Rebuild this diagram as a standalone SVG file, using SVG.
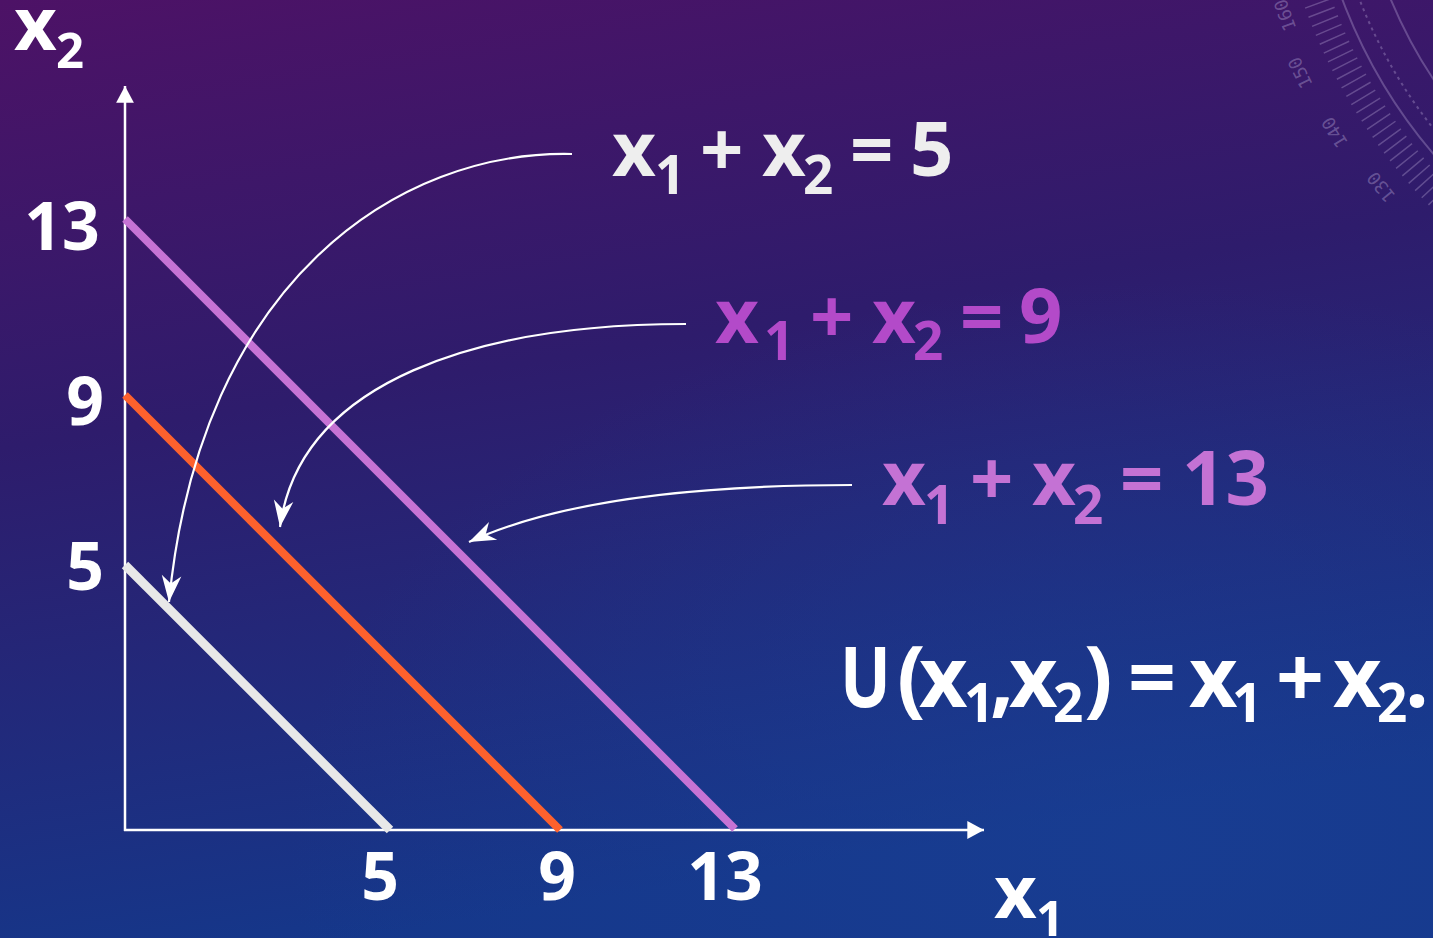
<svg xmlns="http://www.w3.org/2000/svg" width="1433" height="938" viewBox="0 0 1433 938">
<defs>
<linearGradient id="bg" x1="0" y1="0" x2="0.25" y2="1">
<stop offset="0" stop-color="#4d1266"/>
<stop offset="0.45" stop-color="#2e1c6c"/>
<stop offset="1" stop-color="#15378a"/>
</linearGradient>
<radialGradient id="glow" cx="0.8" cy="0.9" r="0.6">
<stop offset="0" stop-color="#1a4096" stop-opacity="0.6"/>
<stop offset="1" stop-color="#1a4096" stop-opacity="0"/>
</radialGradient>
<marker id="barb" markerUnits="userSpaceOnUse" markerWidth="30" markerHeight="24" viewBox="-24 -10 26 20" refX="0" refY="0" orient="auto">
<path d="M0,0 L-23,-8.5 L-16,0 L-23,8.5 Z" fill="#ffffff"/>
</marker>
<marker id="axhead" markerUnits="userSpaceOnUse" markerWidth="20" markerHeight="20" viewBox="-16 -9 18 18" refX="0" refY="0" orient="auto">
<path d="M0,0 L-15,-8 L-15,8 Z" fill="#ffffff"/>
</marker>
</defs>
<style>
.t{font-family:"Open Sans","DejaVu Sans",sans-serif;font-weight:700;}
.w{fill:#ffffff;}
.lbl{font-size:76px;}
.sub{font-size:53px;}
.ax{stroke:#ffffff;stroke-width:2.5;fill:none;}
.cv{stroke:#ffffff;stroke-width:2.2;fill:none;marker-end:url(#barb);}
.deco{fill:none;stroke:#b9a9d8;stroke-opacity:0.35;}
</style>
<rect width="1433" height="938" fill="url(#bg)"/>
<rect width="1433" height="938" fill="url(#glow)"/>
<g id="decoration">
<circle class="deco" cx="1830" cy="-184" r="521" stroke-width="2"/>
<circle class="deco" cx="1830" cy="-184" r="505" stroke-width="2" stroke-dasharray="3 4"/>
<circle class="deco" cx="1830" cy="-184" r="476" stroke-width="2"/>
<circle class="deco" cx="1830" cy="-184" r="545" stroke-width="28" stroke-dasharray="1.5 8"/>
<g font-family="'DejaVu Sans Mono',monospace" font-size="18" fill="#b9a9d8" fill-opacity="0.4" text-anchor="middle">
<text transform="translate(1291,13) rotate(-110)">160</text>
<text transform="translate(1306,70) rotate(-116)">150</text>
<text transform="translate(1340,129) rotate(-122)">140</text>
<text transform="translate(1386,183) rotate(-129)">130</text>
</g>
</g>
<g id="axes">
<line class="ax" x1="125" y1="831" x2="125" y2="86" marker-end="url(#axhead)"/>
<line class="ax" x1="124" y1="830" x2="984" y2="830" marker-end="url(#axhead)"/>
</g>
<g id="line-5"><line x1="125" y1="565" x2="390" y2="830" stroke="#e8e8e8" stroke-width="9"/></g>
<g id="line-9"><line x1="125" y1="395" x2="560" y2="830" stroke="#fd612d" stroke-width="8"/></g>
<g id="line-13"><line x1="125" y1="219" x2="735" y2="829" stroke="#c673d4" stroke-width="8"/></g>
<g id="connectors">
<path class="cv" d="M572,154 C400,150 200,280 169,602"/>
<path class="cv" d="M686,324 C480,324 300,380 280,527"/>
<path class="cv" d="M852,485 C700,485 560,500 469,542"/>
</g>
<g id="axis-labels" class="t w">
<text x="14" y="50" style="font-size:74px">x</text><text x="56" y="68" style="font-size:49px">2</text>
<text x="994" y="918" style="font-size:74px">x</text><text x="1036" y="936" style="font-size:49px">1</text>
<g style="font-size:66px" text-anchor="middle">
<text x="62" y="250">13</text>
<text x="85" y="425">9</text>
<text x="85" y="590">5</text>
<text x="380" y="900">5</text>
<text x="557" y="900">9</text>
<text x="725" y="900">13</text>
</g>
</g>
<g id="label-5" class="t" fill="#eeeeee">
<text y="176" class="lbl"><tspan x="612">x</tspan><tspan x="700">+</tspan><tspan x="762">x</tspan><tspan x="850">=</tspan><tspan x="910">5</tspan></text>
<text y="194" class="sub"><tspan x="655">1</tspan><tspan x="803">2</tspan></text>
</g>
<g id="label-9" class="t" fill="#b34ac9">
<text y="343" class="lbl"><tspan x="715">x</tspan><tspan x="810">+</tspan><tspan x="872">x</tspan><tspan x="960">=</tspan><tspan x="1019">9</tspan></text>
<text y="360" class="sub"><tspan x="764">1</tspan><tspan x="913">2</tspan></text>
</g>
<g id="label-13" class="t" fill="#c472d4">
<text y="505" class="lbl"><tspan x="882">x</tspan><tspan x="970">+</tspan><tspan x="1032">x</tspan><tspan x="1120">=</tspan><tspan x="1182">13</tspan></text>
<text y="524" class="sub"><tspan x="924">1</tspan><tspan x="1073">2</tspan></text>
</g>
<g id="utility" class="t w">
<text transform="translate(840,707) scale(0.8,1)" style="font-size:84px">U</text>
<text y="707" style="font-size:84px"><tspan x="897">(</tspan><tspan x="919">x</tspan><tspan x="990">,</tspan><tspan x="1009">x</tspan><tspan x="1084">)</tspan><tspan x="1128">=</tspan><tspan x="1189">x</tspan><tspan x="1276">+</tspan><tspan x="1333">x</tspan><tspan x="1405">.</tspan></text>
<text y="722" class="sub"><tspan x="964">1</tspan><tspan x="1053">2</tspan><tspan x="1232">1</tspan><tspan x="1377">2</tspan></text>
</g>
</svg>
